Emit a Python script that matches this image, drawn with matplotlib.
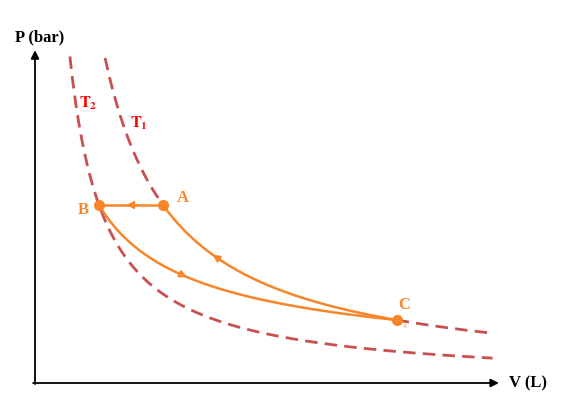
import numpy as np
import matplotlib
matplotlib.use('Agg')
import matplotlib.pyplot as plt

plt.rcParams['font.family'] = ['Liberation Serif', 'DejaVu Serif']
plt.rcParams['mathtext.fontset'] = 'stix'

# state points (V in L, P in bar)
labels = ['A', 'B', 'C']
v_pts = [4.0, 2.0, 11.3]
p_pts = [5.0, 5.0, 1.77]

# isotherm constants P*V (L.bar)
k_T1 = 20.0
k_T2 = 10.0
v_iso_start = [2.19, 1.09]   # where each dashed isotherm starts (T1, T2)
v_iso_end = 14.3

orange = '#F7862A'
red_dash = '#C9504F'
dash = (0, (4.5, 2.6))

fig = plt.figure(figsize=(5.7, 4.16), dpi=100)
ax = fig.add_axes([0, 0, 1, 1])
ax.set_xlim(-1.094, 16.72)
ax.set_ylim(-0.927, 10.76)
ax.axis('off')

# dashed isotherms (T1 hidden under the C -> A branch)
v = np.linspace(v_iso_start[0], v_pts[0], 150)
ax.plot(v, k_T1 / v, color=red_dash, lw=2, ls=dash, zorder=2)
v = np.linspace(v_pts[2], v_iso_end, 150)
ax.plot(v, k_T1 / v, color=red_dash, lw=2, ls=dash, zorder=2)
v = np.linspace(v_iso_start[1], v_iso_end, 300)
ax.plot(v, k_T2 / v, color=red_dash, lw=2, ls=dash, zorder=2)

# A -> B (isobaric)
ax.plot([v_pts[0], v_pts[1]], [p_pts[0], p_pts[1]], color=orange, lw=1.8, zorder=3)

# B -> C (polytropic)
n = np.log(p_pts[1] / p_pts[2]) / np.log(v_pts[2] / v_pts[1])
v_bc = np.linspace(v_pts[1], v_pts[2], 300)
ax.plot(v_bc, p_pts[1] * (v_bc / v_pts[1]) ** (-n), color=orange, lw=1.8, zorder=3)

# C -> A along T1
v_ca = np.linspace(v_pts[0], v_pts[2], 300)
ax.plot(v_ca, k_T1 / v_ca, color=orange, lw=1.8, zorder=3)

# direction arrows
def arrow(v1, v2, f):
    ax.annotate('', xy=(v2, f(v2)), xytext=(v1, f(v1)),
                arrowprops=dict(arrowstyle='-|>,head_length=0.6,head_width=0.3',
                                color=orange, lw=1, mutation_scale=8,
                                shrinkA=0, shrinkB=0), zorder=4)

arrow(3.3, 2.85, lambda v: p_pts[0])
arrow(6.0, 5.55, lambda v: k_T1 / v)
arrow(4.3, 4.75, lambda v: p_pts[1] * (v / v_pts[1]) ** (-n))

ax.plot(v_pts, p_pts, 'o', color=orange, ms=7, zorder=5)

# point labels
ax.text(4.62, 5.2, 'A', color=orange, fontsize=12, fontweight='bold', ha='center', va='center')
ax.text(1.5, 4.85, 'B', color=orange, fontsize=12, fontweight='bold', ha='center', va='center')
ax.text(11.55, 2.2, 'C', color=orange, fontsize=12, fontweight='bold', ha='center', va='center')
ax.text(11.55, 1.6, 'A', color=orange, fontsize=4, ha='center', va='center')

# isotherm labels
ax.text(1.65, 7.86, r'$\mathbf{T}_{\mathbf{2}}$', color='red', fontsize=11.5, ha='center', va='center')
ax.text(3.25, 7.28, r'$\mathbf{T}_{\mathbf{1}}$', color='red', fontsize=11.5, ha='center', va='center')

# axes arrows
ax.annotate('', xy=(14.5, 0), xytext=(-0.06, 0),
            arrowprops=dict(arrowstyle='-|>', color='black', lw=1.3, mutation_scale=12, shrinkA=0, shrinkB=0))
ax.annotate('', xy=(0, 9.35), xytext=(0, -0.03),
            arrowprops=dict(arrowstyle='-|>', color='black', lw=1.3, mutation_scale=12, shrinkA=0, shrinkB=0))

ax.text(0.16, 9.7, 'P (bar)', fontsize=12, fontweight='bold', ha='center', va='center')
ax.text(15.4, 0.0, 'V (L)', fontsize=12, fontweight='bold', ha='center', va='center')

plt.savefig('out.png', dpi=100)
